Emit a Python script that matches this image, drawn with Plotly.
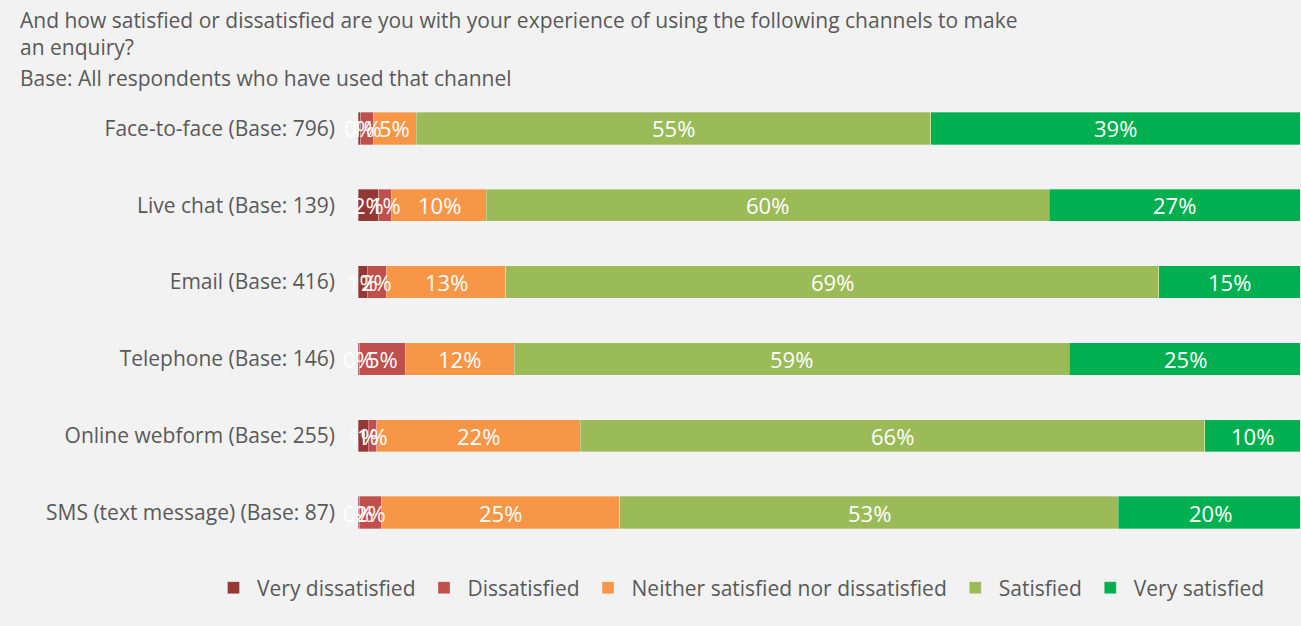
import plotly.graph_objects as go

# Channels, in display order (top to bottom)
channels = [
    "Face-to-face (Base: 796)",
    "Live chat (Base: 139)",
    "Email (Base: 416)",
    "Telephone (Base: 146)",
    "Online webform (Base: 255)",
    "SMS (text message) (Base: 87)",
]

# Share of respondents (%) per satisfaction level
very_dissatisfied = [0.3, 2.2, 1.0, 0.2, 1.1, 0.2]
dissatisfied = [1.3, 1.4, 2.0, 4.8, 0.9, 2.3]
neither = [4.6, 10.0, 12.7, 11.6, 21.6, 25.3]
satisfied = [54.6, 59.8, 69.3, 58.9, 66.3, 52.9]
very_satisfied = [39.3, 26.6, 15.1, 24.6, 10.2, 19.5]

levels = [
    ("Very dissatisfied", very_dissatisfied, "#953735"),
    ("Dissatisfied", dissatisfied, "#C0504D"),
    ("Neither satisfied nor dissatisfied", neither, "#F79646"),
    ("Satisfied", satisfied, "#9BBB59"),
    ("Very satisfied", very_satisfied, "#00B050"),
]

FONT = "Open Sans"
GREY = "#595959"
W, H = 1301, 626
ML, MR, MT, MB = 358, 1, 90, 75
PW, PH = W - ML - MR, H - MT - MB

fig = go.Figure()
annotations = []
cum = [0.0] * len(channels)
for name, vals, color in levels:
    fig.add_trace(go.Bar(
        y=channels, x=vals, name=name, orientation="h",
        marker=dict(color=color, line=dict(color="rgba(255,255,255,0.6)", width=0.5)),
        hoverinfo="x+name",
    ))
    # value labels centred on each segment, allowed to overflow small ones
    for i, v in enumerate(vals):
        annotations.append(dict(
            x=cum[i] + v / 2, y=channels[i], xref="x", yref="y",
            text=f"{v:.0f}%", showarrow=False,
            font=dict(family=FONT, size=22, color="white"),
        ))
        cum[i] += v

# Question text, placed by page pixel position
title_lines = [
    ("And how satisfied or dissatisfied are you with your experience of using the following channels to make", 20),
    ("an enquiry?", 47),
    ("Base: All respondents who have used that channel", 78),
]
for text, ypix in title_lines:
    annotations.append(dict(
        x=(18 - ML) / PW, y=(H - MB - ypix) / PH, xref="paper", yref="paper",
        xanchor="left", yanchor="middle", text=text, showarrow=False,
        font=dict(family=FONT, size=21, color=GREY),
    ))

# Legend sits below the bars, starting left of the plot area so it has the full row
fig.update_layout(
    barmode="stack",
    bargap=0.58,
    width=W, height=H,
    margin=dict(l=ML, r=MR, t=MT, b=MB),
    paper_bgcolor="#F2F2F2", plot_bgcolor="#F2F2F2",
    font=dict(family=FONT, size=21, color=GREY),
    showlegend=True,
    legend=dict(
        orientation="h", xref="paper", yref="paper",
        x=(210 - ML) / PW, y=(H - MB - 588) / PH, xanchor="left", yanchor="middle",
        font=dict(family=FONT, size=21, color=GREY),
        traceorder="normal", itemwidth=37, bgcolor="rgba(0,0,0,0)",
    ),
    annotations=annotations,
)

fig.update_xaxes(range=[0, 100], visible=False, fixedrange=True)
fig.update_yaxes(
    categoryorder="array", categoryarray=channels[::-1],
    showline=False, showgrid=False, ticks="", ticklabelstandoff=22,
    tickfont=dict(family=FONT, size=21, color=GREY),
)

fig.write_html("out.html")
